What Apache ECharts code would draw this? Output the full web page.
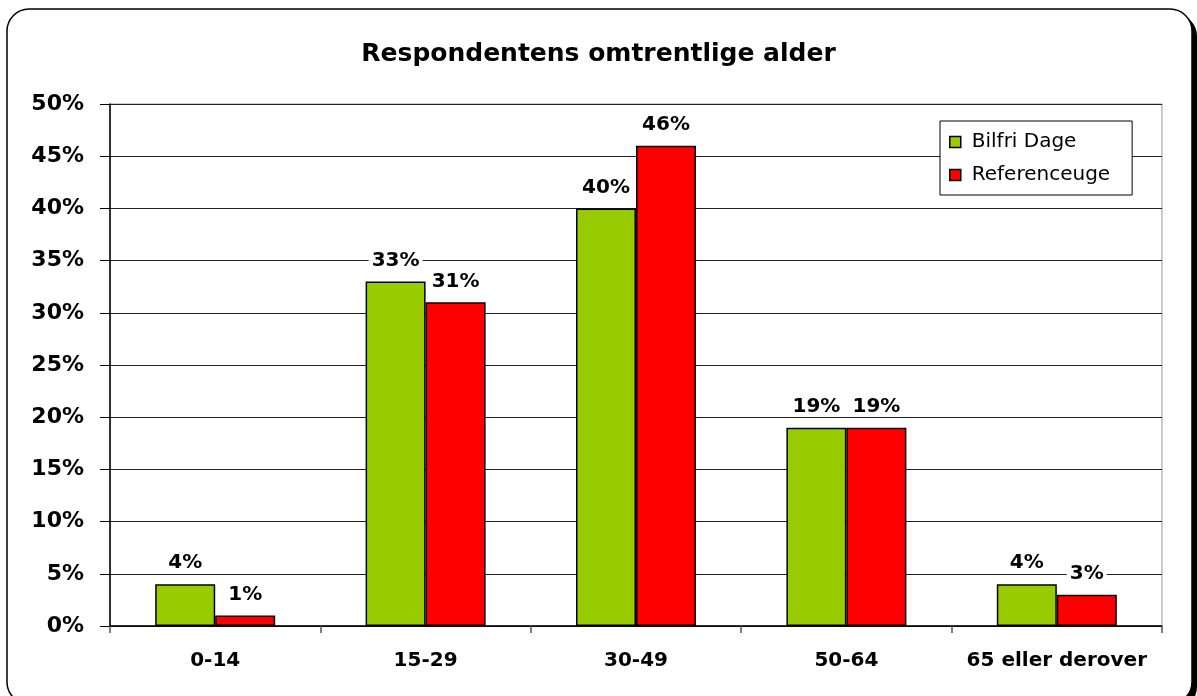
<!DOCTYPE html>
<html>
<head>
<meta charset="utf-8">
<script src="https://cdn.jsdelivr.net/npm/echarts@6/dist/echarts.min.js"></script>
<style>
  html, body { margin: 0; padding: 0; background: #fff; }
  #chart { width: 1197px; height: 696px; }
</style>
</head>
<body>
<div id="chart"></div>
<script>
const categories = ['0-14', '15-29', '30-49', '50-64', '65 eller derover']
const bilfriDage = [4, 33, 40, 19, 4]
const referenceuge = [1, 31, 46, 19, 3]
const yTicks = [0, 5, 10, 15, 20, 25, 30, 35, 40, 45, 50]

// wide bold face, closest to the spaced-out Arial of the original
const font = '"DejaVu Sans", Verdana, sans-serif'

const chart = echarts.init(document.getElementById('chart'))

const labelStyle = {
  show: true,
  position: 'top',
  distance: 11,
  formatter: (p) => p.value + '%',
  color: '#000',
  fontFamily: font,
  fontWeight: 'bold',
  fontSize: 20,
  backgroundColor: '#fff',
  padding: [0, 3],
}

const option = {
  backgroundColor: '#fff',
  animation: false,
  graphic: [
    {
      type: 'rect',
      shape: { x: 12, y: 14, width: 1185, height: 695, r: 22 },
      style: { fill: '#000' },
      z: -10,
    },
    {
      type: 'rect',
      shape: { x: 7, y: 9, width: 1185, height: 695, r: 22 },
      style: { fill: '#fff', stroke: '#000', lineWidth: 1.5 },
      z: -9,
    },
  ],
  title: {
    text: 'Respondentens omtrentlige alder',
    left: 'center',
    top: 37,
    textStyle: { fontFamily: font, fontWeight: 'bold', fontSize: 25, color: '#000' },
  },
  legend: {
    orient: 'vertical',
    left: 940,
    top: 121,
    icon: 'rect',
    itemWidth: 11,
    itemHeight: 11,
    itemGap: 13,
    padding: [11, 22, 10, 9],
    backgroundColor: '#fff',
    borderColor: '#000',
    borderWidth: 1,
    textStyle: { fontFamily: font, fontSize: 20, color: '#000', padding: [0, 0, 0, 6] },
    data: [
      { name: 'Bilfri Dage', itemStyle: { borderColor: '#000', borderWidth: 1.5 } },
      { name: 'Referenceuge', itemStyle: { borderColor: '#000', borderWidth: 1.5 } },
    ],
  },
  grid: {
    left: 110,
    right: 35,
    top: 104,
    bottom: 70,
    show: true,
    borderColor: '#999',
    borderWidth: 1,
  },
  xAxis: {
    type: 'category',
    data: categories,
    axisLine: { lineStyle: { color: '#000', width: 1.5 } },
    axisTick: { show: true, interval: 0, length: 7, lineStyle: { color: '#555', width: 1.5 } },
    axisLabel: {
      interval: 0,
      color: '#000',
      fontFamily: font,
      fontWeight: 'bold',
      fontSize: 20,
      margin: 25,
    },
  },
  yAxis: {
    type: 'value',
    min: 0,
    max: 50,
    interval: 5,
    axisLine: { show: true, lineStyle: { color: '#000', width: 1.5 } },
    axisTick: { show: true, length: 10, inside: false, lineStyle: { color: '#000' } },
    axisLabel: {
      color: '#000',
      fontFamily: font,
      fontWeight: 'bold',
      fontSize: 22,
      margin: 26,
      formatter: (v) => (yTicks.includes(v) ? v + '%' : ''),
    },
    splitLine: { lineStyle: { color: '#222', width: 1 } },
  },
  series: [
    {
      name: 'Bilfri Dage',
      type: 'bar',
      data: bilfriDage,
      barWidth: 60,
      barGap: '0%',
      itemStyle: { color: '#99cc00', borderColor: '#000', borderWidth: 1.5 },
      label: labelStyle,
    },
    {
      name: 'Referenceuge',
      type: 'bar',
      data: referenceuge,
      barWidth: 60,
      barGap: '0%',
      itemStyle: { color: '#ff0000', borderColor: '#000', borderWidth: 1.5 },
      label: labelStyle,
    },
  ],
}

chart.setOption(option)
</script>
</body>
</html>
